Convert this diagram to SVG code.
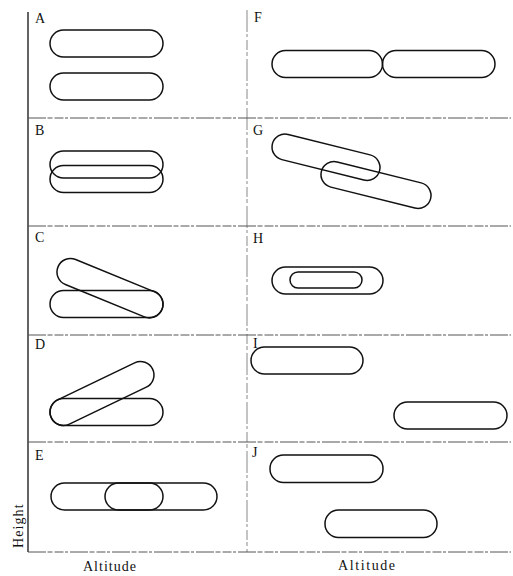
<svg xmlns="http://www.w3.org/2000/svg" width="513" height="576" viewBox="0 0 513 576">
  <style>
    .cap { fill: none; stroke: #111; stroke-width: 1.5; }
    .lbl { font-family: "Liberation Serif", "Times New Roman", serif; font-size: 14px; fill: #111; }
    .axt { font-family: "Liberation Serif", "Times New Roman", serif; font-size: 14px; fill: #111; }
    .axis { stroke: #222; stroke-width: 1.4; fill: none; }
    .grid { stroke: #555; stroke-width: 1; stroke-dasharray: 18 1.5 5 2 9 1.5 3 2; fill: none; }
    .vgrid { stroke: #888; stroke-width: 1; stroke-dasharray: 22 2 3 3 10 2 4 3; fill: none; }
  </style>
  <rect width="513" height="576" fill="#fff"/>

  <!-- panel frame -->
  <g id="frame">
    <line class="axis" x1="28" y1="12" x2="28" y2="552"/>
    <line class="vgrid" x1="247" y1="10" x2="247" y2="552"/>
    <line class="grid" x1="28" y1="118" x2="511" y2="118"/>
    <line class="grid" x1="28" y1="226" x2="511" y2="226"/>
    <line class="grid" x1="28" y1="335" x2="511" y2="335"/>
    <line class="grid" x1="28" y1="442" x2="511" y2="442"/>
    <line class="grid" x1="28" y1="552" x2="511" y2="552"/>
  </g>

  <!-- A: two separate stacked bands -->
  <g id="panel-A">
    <text class="lbl" x="35" y="23">A</text>
    <rect class="cap" x="50" y="30" width="113" height="27" rx="13.5"/>
    <rect class="cap" x="50" y="73" width="113" height="27" rx="13.5"/>
  </g>

  <!-- B: two overlapping bands -->
  <g id="panel-B">
    <text class="lbl" x="35" y="135">B</text>
    <rect class="cap" x="50" y="151" width="113" height="27" rx="13.5"/>
    <rect class="cap" x="50" y="165.5" width="113" height="27" rx="13.5"/>
  </g>

  <!-- C: tilted band meeting right end -->
  <g id="panel-C">
    <text class="lbl" x="35" y="242">C</text>
    <rect class="cap" x="50" y="290.5" width="113" height="27" rx="13.5"/>
    <rect class="cap" x="53.8" y="274.7" width="112.4" height="27" rx="13.5" transform="rotate(22.3 110 288.2)"/>
  </g>

  <!-- D: tilted band rising from left end -->
  <g id="panel-D">
    <text class="lbl" x="35" y="349">D</text>
    <rect class="cap" x="50" y="398.5" width="113" height="27" rx="13.5"/>
    <rect class="cap" x="45.8" y="380" width="112.4" height="27" rx="13.5" transform="rotate(-25.7 102 393.5)"/>
  </g>

  <!-- E: long band with short inner band -->
  <g id="panel-E">
    <text class="lbl" x="35" y="460">E</text>
    <rect class="cap" x="51" y="483" width="166" height="27" rx="13.5"/>
    <rect class="cap" x="105" y="483" width="58" height="27" rx="13.5"/>
  </g>

  <!-- F: two bands end to end -->
  <g id="panel-F">
    <text class="lbl" x="254" y="22">F</text>
    <rect class="cap" x="272" y="50.5" width="110.5" height="27" rx="13.5"/>
    <rect class="cap" x="382.5" y="50.5" width="112.5" height="27" rx="13.5"/>
  </g>

  <!-- G: two tilted, offset bands -->
  <g id="panel-G">
    <text class="lbl" x="253" y="135">G</text>
    <rect class="cap" x="270.75" y="144.25" width="110.5" height="26" rx="13" transform="rotate(14 326 157.25)"/>
    <rect class="cap" x="319.7" y="172" width="112.6" height="26" rx="13" transform="rotate(14 376 185)"/>
  </g>

  <!-- H: band nested inside band -->
  <g id="panel-H">
    <text class="lbl" x="253" y="243">H</text>
    <rect class="cap" x="272" y="267" width="111" height="27" rx="13.5"/>
    <rect class="cap" x="290" y="272" width="72" height="16" rx="8"/>
  </g>

  <!-- I: separated in both directions -->
  <g id="panel-I">
    <text class="lbl" x="253" y="348">I</text>
    <rect class="cap" x="251" y="347" width="112" height="27" rx="13.5"/>
    <rect class="cap" x="394" y="402" width="113" height="27" rx="13.5"/>
  </g>

  <!-- J: partly overlapping in altitude -->
  <g id="panel-J">
    <text class="lbl" x="252" y="457">J</text>
    <rect class="cap" x="270" y="455" width="113" height="27.5" rx="13.5"/>
    <rect class="cap" x="325" y="510" width="112" height="27.5" rx="13.5"/>
  </g>

  <!-- axis titles -->
  <g id="axis-titles">
    <text class="axt" x="23" y="548" letter-spacing="1.1" transform="rotate(-90 23 548)">Height</text>
    <text class="axt" x="83" y="571" letter-spacing="1">Altitude</text>
    <text class="axt" x="338" y="570" letter-spacing="1.6">Altitude</text>
  </g>
</svg>
